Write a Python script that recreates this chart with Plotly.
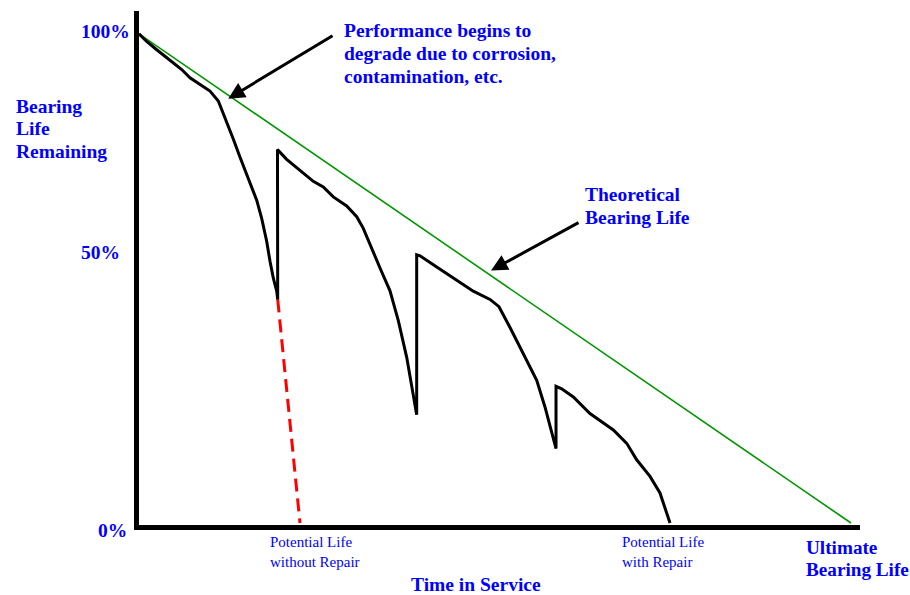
import plotly.graph_objects as go

# ---------------- data ----------------
# time in service (0 .. 100 = ultimate bearing life), life remaining in %
curve_time = [0, 1.08, 2.49, 3.89, 5.06, 6.00, 7.16, 8.57, 9.97, 11.14, 11.62, 12.32,
              13.24, 14.19, 15.35, 16.53, 17.23, 17.94, 18.40, 18.86, 19.34, 19.48,
              19.45, 20.74, 22.61, 24.48, 25.88, 27.29, 29.17, 30.58, 31.50, 32.44,
              33.85, 35.25, 36.42, 37.60, 38.53, 39.00,
              39.00, 39.47, 41.34, 44.14, 46.95, 49.30, 50.56, 52.11, 53.97, 55.86,
              57.02, 57.96, 58.57,
              58.57, 59.37, 61.00, 63.34, 66.62, 68.50, 69.90, 71.77, 73.17, 74.12, 74.58]
curve_life = [100, 98.44, 96.75, 95.07, 93.71, 92.70, 91.01, 89.66, 88.30, 86.27, 84.58, 81.89,
              78.50, 74.79, 70.39, 65.99, 62.27, 57.55, 53.49, 50.10, 47.40, 45.70,
              76.33, 74.34, 72.07, 69.84, 68.70, 66.67, 64.81, 62.62, 60.24, 56.86,
              52.13, 47.46, 41.38, 33.87, 26.43, 22.11,
              54.83, 54.62, 52.80, 50.10, 47.40, 45.70, 44.22, 39.96, 34.54, 29.15,
              23.73, 18.32, 15.21,
              27.93, 27.44, 25.76, 22.37, 19.01, 16.29, 12.92, 9.53, 6.15, 2.09, 0]

theory_time = [0, 100]
theory_life = [100, 0]

norepair_time = [19.48, 22.61]
norepair_life = [45.70, 0]

y_tick_labels = ["100%", "50%", "0%"]
axis_title_y = ["Bearing", "Life", "Remaining"]
axis_title_x = "Time in Service"
note_degrade = ["Performance begins to", "degrade due to corrosion,", "contamination, etc."]
note_theory = ["Theoretical", "Bearing Life"]
note_ultimate = ["Ultimate", "Bearing Life"]
note_norepair = ["Potential Life", "without Repair"]
note_repair = ["Potential Life", "with Repair"]

# ---------------- layout helpers ----------------
W, H = 910, 595
L, R, T, B = 139, 860, 11, 525   # plot area in pixels


def px(x, y):
    return (x - L) / (R - L), (B - y) / (B - T)


BLUE = "#0000FF"
SERIF = "Liberation Serif, Times New Roman, serif"

fig = go.Figure()

fig.add_trace(go.Scatter(x=theory_time, y=theory_life, mode="lines",
                         line=dict(color="#009600", width=1.6),
                         hoverinfo="skip", showlegend=False))
fig.add_trace(go.Scatter(x=norepair_time, y=norepair_life, mode="lines",
                         line=dict(color="#FF0000", width=3, dash="13px,7px"),
                         hoverinfo="skip", showlegend=False))
fig.add_trace(go.Scatter(x=curve_time, y=curve_life, mode="lines",
                         line=dict(color="black", width=3),
                         hoverinfo="skip", showlegend=False))

annotations = []


def text_lines(lines, x, y0, dy, size, bold=True, anchor="left"):
    for i, t in enumerate(lines):
        xx, yy = px(x, y0 + i * dy)
        annotations.append(dict(
            text=f"<b>{t}</b>" if bold else t, x=xx, y=yy, xref="paper", yref="paper",
            xanchor=anchor, yanchor="middle", showarrow=False,
            font=dict(family=SERIF, size=size, color=BLUE)))


text_lines(note_degrade, 342, 31, 22.5, 19.5)
text_lines(axis_title_y, 14, 106, 22.8, 19.5)
text_lines(note_theory, 583, 195, 22, 19.5)
text_lines(note_ultimate, 804, 547, 22, 19.2)
text_lines(note_norepair, 268, 542, 19.5, 15, bold=False)
text_lines(note_repair, 620, 542, 19.5, 15, bold=False)
text_lines([axis_title_x], 475.5, 584, 0, 19.5, anchor="center")
text_lines([y_tick_labels[0]], 79, 32, 0, 19.5)
text_lines([y_tick_labels[1]], 79, 252, 0, 19.5)
text_lines([y_tick_labels[2]], 96, 530, 0, 19.5)

# arrows (tip in data coords, tail in data coords)
for tip, tail in [((12.54, 86.75), (27.39, 99.80)), ((49.44, 51.62), (61.94, 61.56))]:
    annotations.append(dict(
        x=tip[0], y=tip[1], ax=tail[0], ay=tail[1], xref="x", yref="y",
        axref="x", ayref="y", text="", showarrow=True,
        arrowhead=2, arrowsize=1.1, arrowwidth=3, arrowcolor="black"))

fig.update_layout(
    width=W, height=H,
    margin=dict(l=L, r=W - R, t=T, b=H - B, pad=0),
    paper_bgcolor="white", plot_bgcolor="white",
    xaxis=dict(range=[0, (R - L) / 7.12], showgrid=False, zeroline=False,
               showticklabels=False, ticks="", showline=True, linecolor="black",
               linewidth=5),
    yaxis=dict(range=[-(527 - B) / 4.93, (527 - T) / 4.93], showgrid=False,
               zeroline=False, showticklabels=False, ticks="", showline=True,
               linecolor="black", linewidth=4.5),
    annotations=annotations,
)

fig.write_html(
    "out.html",
    config={"displayModeBar": False},
    post_script="document.body.style.margin='0';document.body.style.overflow='hidden';",
)
